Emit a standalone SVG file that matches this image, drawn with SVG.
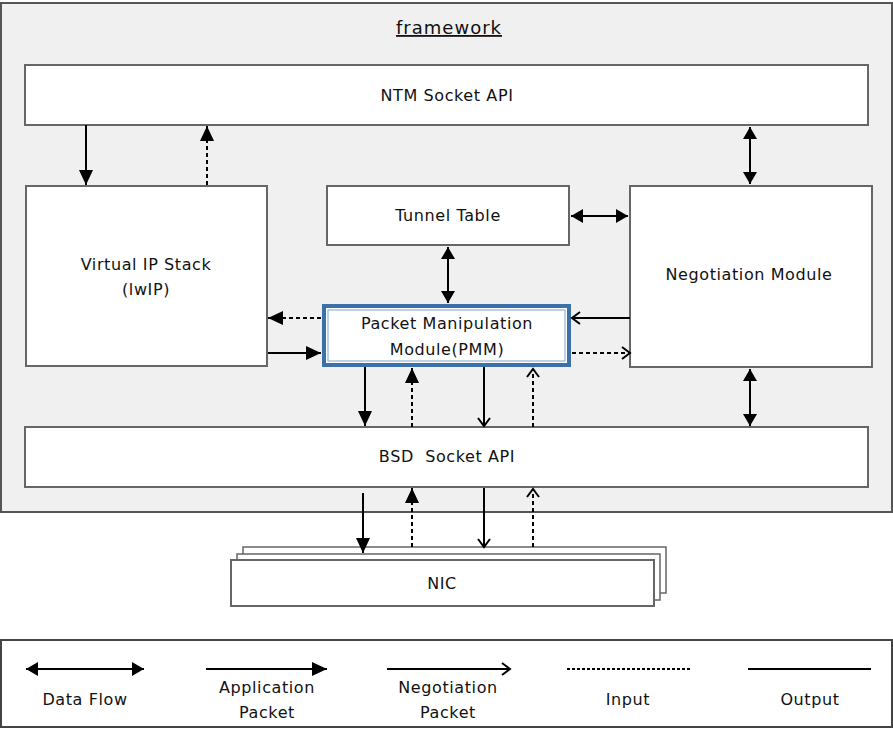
<svg xmlns="http://www.w3.org/2000/svg" width="893" height="729" viewBox="0 0 893 729">
<defs>
<style>
.box{fill:#fff;stroke:#666;stroke-width:2}
.t{font-family:"DejaVu Sans","Liberation Sans",sans-serif;font-size:16px;letter-spacing:0.6px;fill:#111;text-anchor:middle}
.ln{stroke:#000;stroke-width:2;fill:none}
.dash{stroke-dasharray:4 3}
</style>
<marker id="fh" markerUnits="userSpaceOnUse" markerWidth="16" markerHeight="14" refX="15" refY="7" orient="auto-start-reverse"><path d="M0,0 L15,7 L0,14 z" fill="#000"/></marker>
<marker id="dh" markerUnits="userSpaceOnUse" markerWidth="13" markerHeight="14" refX="12" refY="7" orient="auto-start-reverse"><path d="M0,0 L12,7 L0,14 z" fill="#000"/></marker>
<marker id="oh" markerUnits="userSpaceOnUse" markerWidth="12" markerHeight="14" refX="9" refY="7" orient="auto-start-reverse"><path d="M1,1 L9,7 L1,13" fill="none" stroke="#000" stroke-width="2"/></marker>
</defs>
<rect x="1" y="3" width="891" height="509" fill="#f0f0f0" stroke="#555" stroke-width="2"/>
<text class="t" x="449" y="34" style="font-size:18px;letter-spacing:1px;text-decoration:underline">framework</text>

<g id="ntm"><rect class="box" x="25" y="65" width="843" height="60"/><text class="t" x="447" y="101">NTM Socket API</text></g>
<g id="vip"><rect class="box" x="26" y="186" width="241" height="180"/><text class="t" x="146" y="270">Virtual IP Stack</text><text class="t" x="146" y="295">(lwIP)</text></g>
<g id="tunnel"><rect class="box" x="327" y="186" width="242" height="59"/><text class="t" x="448" y="221">Tunnel Table</text></g>
<g id="neg"><rect class="box" x="630" y="186" width="242" height="181"/><text class="t" x="749" y="280">Negotiation Module</text></g>
<g id="pmm"><rect x="324" y="306" width="245" height="59" fill="#fff" stroke="#3d6fa8" stroke-width="4"/><rect x="328" y="310" width="237" height="51" fill="none" stroke="#7fa6d0" stroke-width="1"/><text class="t" x="447" y="329">Packet Manipulation</text><text class="t" x="447" y="355">Module(PMM)</text></g>
<g id="bsd"><rect class="box" x="25" y="427" width="843" height="60"/><text class="t" x="447" y="462" xml:space="preserve">BSD  Socket API</text></g>
<g id="nic"><rect class="box" x="243" y="547" width="423" height="46" style="stroke-width:1.5"/><rect class="box" x="237" y="554" width="423" height="46" style="stroke-width:1.5"/><rect class="box" x="231" y="560" width="423" height="46"/><text class="t" x="442" y="589">NIC</text></g>

<g id="connectors">
<line class="ln" x1="86" y1="125" x2="86" y2="185" marker-end="url(#fh)"/>
<line class="ln dash" x1="207" y1="185" x2="207" y2="126" marker-end="url(#fh)"/>
<line class="ln" x1="750" y1="127" x2="750" y2="184" marker-start="url(#dh)" marker-end="url(#dh)"/>
<line class="ln" x1="571" y1="216" x2="628" y2="216" marker-start="url(#dh)" marker-end="url(#dh)"/>
<line class="ln" x1="448" y1="247" x2="448" y2="303" marker-start="url(#dh)" marker-end="url(#dh)"/>
<line class="ln dash" x1="321" y1="318" x2="268" y2="318" marker-end="url(#fh)"/>
<line class="ln" x1="268" y1="353" x2="321" y2="353" marker-end="url(#fh)"/>
<line class="ln" x1="630" y1="318" x2="572" y2="318" marker-end="url(#oh)"/>
<line class="ln dash" x1="572" y1="353" x2="630" y2="353" marker-end="url(#oh)"/>
<line class="ln" x1="750" y1="369" x2="750" y2="426" marker-start="url(#dh)" marker-end="url(#dh)"/>
<line class="ln" x1="365" y1="367" x2="365" y2="426" marker-end="url(#fh)"/>
<line class="ln dash" x1="412" y1="427" x2="412" y2="368" marker-end="url(#fh)"/>
<line class="ln" x1="484" y1="367" x2="484" y2="426" marker-end="url(#oh)"/>
<line class="ln dash" x1="533" y1="427" x2="533" y2="369" marker-end="url(#oh)"/>
<line class="ln" x1="363" y1="493" x2="363" y2="553" marker-end="url(#fh)"/>
<line class="ln dash" x1="412" y1="547" x2="412" y2="488" marker-end="url(#fh)"/>
<line class="ln" x1="484" y1="488" x2="484" y2="547" marker-end="url(#oh)"/>
<line class="ln dash" x1="533" y1="547" x2="533" y2="489" marker-end="url(#oh)"/>
</g>

<g id="legend">
<rect x="1" y="640" width="891" height="87" fill="#fff" stroke="#444" stroke-width="2"/>
<line class="ln" x1="26" y1="669" x2="144" y2="669" marker-start="url(#dh)" marker-end="url(#dh)"/>
<text class="t" x="85" y="705">Data Flow</text>
<line class="ln" x1="206" y1="669" x2="327" y2="669" marker-end="url(#fh)"/>
<text class="t" x="267" y="693">Application</text><text class="t" x="267" y="718">Packet</text>
<line class="ln" x1="387" y1="669" x2="510" y2="669" marker-end="url(#oh)"/>
<text class="t" x="448" y="693">Negotiation</text><text class="t" x="448" y="718">Packet</text>
<line x1="567" y1="669" x2="690" y2="669" stroke="#000" stroke-width="2" stroke-dasharray="3 2"/>
<text class="t" x="628" y="705">Input</text>
<line class="ln" x1="748" y1="669" x2="871" y2="669"/>
<text class="t" x="810" y="705">Output</text>
</g>
</svg>
